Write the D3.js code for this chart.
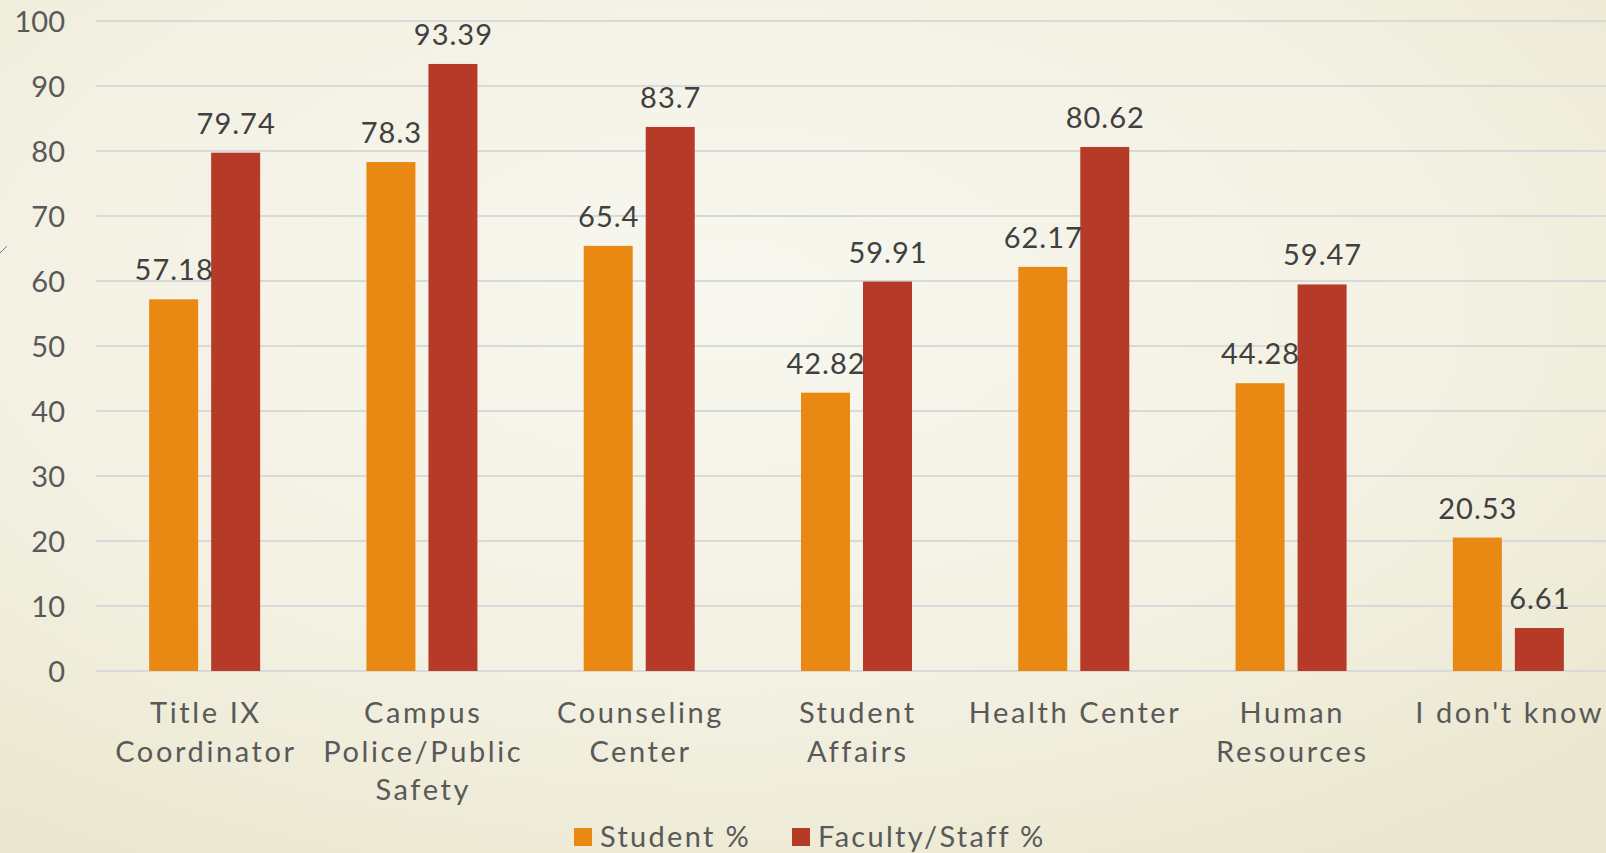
<!DOCTYPE html>
<html>
<head>
<meta charset="utf-8">
<script src="https://cdn.jsdelivr.net/npm/d3@7"></script>
<style>
  html, body { margin: 0; padding: 0; overflow: hidden; }
  body { width: 1606px; height: 853px; }
  text { font-family: Lato, "Open Sans", sans-serif; }
</style>
</head>
<body>
<div id="chart"></div>
<script>
var categories = ["Title IX\nCoordinator", "Campus\nPolice/Public\nSafety", "Counseling\nCenter",
    "Student\nAffairs", "Health Center", "Human\nResources", "I don't know"];
var seriesNames = ["Student %", "Faculty/Staff %"];
var studentVals = [57.18, 78.3, 65.4, 42.82, 62.17, 44.28, 20.53];
var facultyVals = [79.74, 93.39, 83.7, 59.91, 80.62, 59.47, 6.61];
var yTicks = [0, 10, 20, 30, 40, 50, 60, 70, 80, 90, 100];
var colors = ["#e98812", "#b53a27"];

var W = 1606, H = 853;

var svg = d3.select("#chart").append("svg")
    .attr("width", W)
    .attr("height", H);

// background gradient like the slide
var defs = svg.append("defs");
var grad = defs.append("radialGradient")
    .attr("id", "bg")
    .attr("cx", "45%").attr("cy", "35%").attr("r", "75%");
grad.append("stop").attr("offset", "0%").attr("stop-color", "#f8f7ef");
grad.append("stop").attr("offset", "60%").attr("stop-color", "#f3f1e3");
grad.append("stop").attr("offset", "100%").attr("stop-color", "#ebe7d0");
svg.append("rect").attr("width", W).attr("height", H).attr("fill", "url(#bg)");

// little stray stroke on left edge
svg.append("line")
    .attr("x1", 0).attr("y1", 253).attr("x2", 7).attr("y2", 246)
    .style("stroke", "#777").style("stroke-width", 1);

var x0 = d3.scaleBand().domain(categories).range([96, 1617]).padding(0);
var x1 = d3.scaleBand().domain(seriesNames).range([0, 111]).paddingInner(0.21).paddingOuter(0);
var y = d3.scaleLinear().domain([0, 100]).range([671, 21]);

// gridlines
svg.append("g").selectAll("line")
    .data(yTicks)
    .enter().append("line")
    .attr("x1", 96).attr("x2", W)
    .attr("y1", function (d) { return y(d); })
    .attr("y2", function (d) { return y(d); })
    .style("stroke", "#d9d9d9")
    .style("stroke-width", 2);

// y axis labels
var yAxis = d3.axisLeft(y).tickValues(yTicks).tickSize(0).tickPadding(0);
var gy = svg.append("g").attr("transform", "translate(65,0)").call(yAxis);
gy.select(".domain").remove();
gy.selectAll("text")
    .style("font-size", "29px")
    .style("fill", "#595959")
    .style("font-family", "Lato, sans-serif")
    .attr("dy", "0.36em");

// bars
var rows = categories.map(function (c, i) {
    return { cat: c, vals: [studentVals[i], facultyVals[i]] };
});

var groups = svg.append("g").selectAll("g")
    .data(rows)
    .enter().append("g")
    .attr("transform", function (d) {
        return "translate(" + (x0(d.cat) + x0.bandwidth() / 2 - 55.5) + ",0)";
    });

groups.selectAll("rect")
    .data(function (d) { return d.vals.map(function (v, j) { return { s: seriesNames[j], v: v, j: j }; }); })
    .enter().append("rect")
    .attr("x", function (d) { return x1(d.s); })
    .attr("width", x1.bandwidth())
    .attr("y", function (d) { return y(d.v); })
    .attr("height", function (d) { return y(0) - y(d.v); })
    .attr("fill", function (d) { return colors[d.j]; });

groups.selectAll("text.val")
    .data(function (d) { return d.vals.map(function (v, j) { return { s: seriesNames[j], v: v }; }); })
    .enter().append("text")
    .attr("class", "val")
    .attr("x", function (d) { return x1(d.s) + x1.bandwidth() / 2 + 0.5; })
    .attr("y", function (d) { return y(d.v) - 19; })
    .attr("text-anchor", "middle")
    .style("font-size", "29px")
    .style("letter-spacing", "1px")
    .style("fill", "#404040")
    .text(function (d) { return String(d.v); });

// category labels
var gx = svg.append("g");
categories.forEach(function (c) {
    var lines = c.split("\n");
    var t = gx.append("text")
        .attr("x", x0(c) + x0.bandwidth() / 2)
        .attr("y", 723)
        .attr("text-anchor", "middle")
        .style("font-size", "29px")
        .style("letter-spacing", "2.6px")
        .style("fill", "#595959");
    lines.forEach(function (ln, k) {
        t.append("tspan")
            .attr("x", x0(c) + x0.bandwidth() / 2 + 1.3)
            .attr("dy", k === 0 ? 0 : 38.5)
            .text(ln);
    });
});

// legend
var legend = svg.append("g");
var legX = [574, 792];
seriesNames.forEach(function (s, i) {
    legend.append("rect")
        .attr("x", legX[i]).attr("y", 828)
        .attr("width", 18).attr("height", 18)
        .attr("fill", colors[i]);
    legend.append("text")
        .attr("x", legX[i] + 26).attr("y", 847)
        .style("font-size", "29px")
        .style("letter-spacing", "2.3px")
        .style("fill", "#595959")
        .text(s);
});
</script>
</body>
</html>
